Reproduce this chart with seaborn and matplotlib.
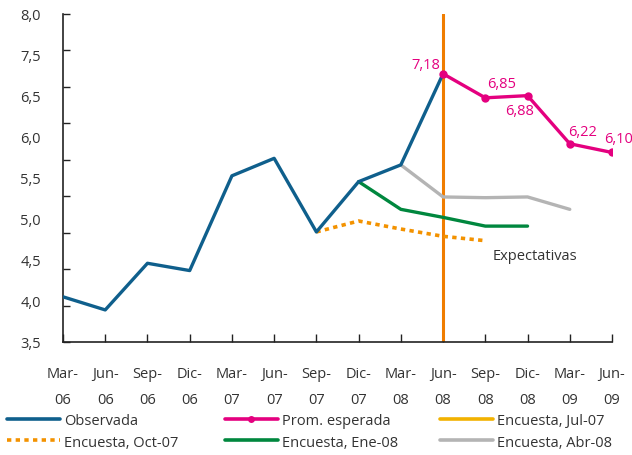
import numpy as np
import pandas as pd
import seaborn as sns
import matplotlib
matplotlib.use("Agg")
import matplotlib.pyplot as plt
from matplotlib.lines import Line2D
from matplotlib.ticker import FixedLocator

# Quarterly periods shown on the horizontal axis
periods = ["Mar-06", "Jun-06", "Sep-06", "Dic-06", "Mar-07", "Jun-07", "Sep-07",
           "Dic-07", "Mar-08", "Jun-08", "Sep-08", "Dic-08", "Mar-09", "Jun-09"]

# Observed inflation (Mar-06 .. Jun-08)
observada = [4.12, 3.94, 4.58, 4.48, 5.78, 6.02, 5.01, 5.70, 5.93, 7.18]

# Average expected path (Jun-08 .. Jun-09)
prom_esperada = [7.18, 6.85, 6.88, 6.22, 6.10]
prom_labels = ["7,18", "6,85", "6,88", "6,22", "6,10"]

# Survey expectations
encuesta_oct07 = [5.01, 5.16, 5.05, 4.95, 4.89]        # Sep-07 .. Sep-08
encuesta_ene08 = [5.70, 5.32, 5.21, 5.09, 5.09]        # Dic-07 .. Dic-08
encuesta_abr08 = [5.93, 5.49, 5.48, 5.49, 5.32]        # Mar-08 .. Mar-09

# Vertical reference at the last observed quarter
corte = "Jun-08"

# Y-axis scale and its printed labels
y_ticks = [3.5, 4.0, 4.5, 5.0, 5.5, 6.0, 6.5, 7.0, 7.5, 8.0]
y_labels = ["3,5", "4,0", "4,5", "5,0", "5,5", "6,0", "6,5", "7,5", "8,0"]

C_OBS = "#0F5F8C"
C_PROM = "#E4007F"
C_JUL = "#F2B200"
C_OCT = "#F39200"
C_ENE = "#00873E"
C_ABR = "#B4B4B4"
C_VLINE = "#F07D00"
TXT = "#333333"

sns.set_theme(style="white")
plt.rcParams["font.family"] = ["Open Sans", "DejaVu Sans"]
plt.rcParams["font.size"] = 10.5
plt.rcParams["text.color"] = TXT
plt.rcParams["xtick.color"] = TXT
plt.rcParams["ytick.color"] = TXT

idx = {p: i for i, p in enumerate(periods)}


def frame(values, start):
    i0 = idx[start]
    return pd.DataFrame({"x": np.arange(i0, i0 + len(values)), "y": values})


fig = plt.figure(figsize=(6.32, 4.56), dpi=100)
ax = fig.add_axes([63 / 632, 1 - 343 / 456, (612 - 63) / 632, (343 - 15) / 456])

df_obs = frame(observada, "Mar-06")
df_prom = frame(prom_esperada, "Jun-08")
df_oct = frame(encuesta_oct07, "Sep-07")
df_ene = frame(encuesta_ene08, "Dic-07")
df_abr = frame(encuesta_abr08, "Mar-08")

ax.axvline(idx[corte], color=C_VLINE, lw=2.2, zorder=1)
sns.lineplot(data=df_abr, x="x", y="y", ax=ax, color=C_ABR, lw=2.4, zorder=2)
sns.lineplot(data=df_ene, x="x", y="y", ax=ax, color=C_ENE, lw=2.4, zorder=2)
sns.lineplot(data=df_oct, x="x", y="y", ax=ax, color=C_OCT, lw=2.6,
             linestyle=(0, (1.2, 1.2)), zorder=2)
sns.lineplot(data=df_obs, x="x", y="y", ax=ax, color=C_OBS, lw=2.4, zorder=3)
sns.lineplot(data=df_prom, x="x", y="y", ax=ax, color=C_PROM, lw=2.4,
             marker="o", markersize=6, markeredgewidth=0, zorder=4)

# Value labels on the expected path (offsets in points)
offsets = [(-2, 7, "right"), (12, 10, "center"), (-6, -11, "center"),
           (9, 9, "center"), (-6, 10, "left")]
for (dx, dy, ha), xv, yv, lab in zip(offsets, df_prom["x"], df_prom["y"], prom_labels):
    ax.annotate(lab, (xv, yv), xytext=(dx, dy), textcoords="offset points",
                ha=ha, va="center", color=C_PROM, fontsize=10.5,
                annotation_clip=False)

ax.text(10.17, 4.68, "Expectativas", ha="left", va="center", color=TXT, fontsize=10.5)

ax.set_xlim(0, 13)
ax.set_ylim(3.5, 8.0)
ax.set_xticks(range(len(periods)))
ax.set_xticklabels([p.replace("-", "-\n") for p in periods], linespacing=2.0)
ax.yaxis.remove_overlapping_locs = False
ax.yaxis.set_major_locator(FixedLocator(y_ticks))
ax.set_yticklabels([])
pos = np.linspace(3.5, 8.0, len(y_labels))
ax.yaxis.set_minor_locator(FixedLocator(pos))
ax.set_yticklabels(y_labels, minor=True)
ax.tick_params(axis="y", which="major", left=True, direction="in", length=5,
               width=1, color="#222222")
ax.tick_params(axis="y", which="minor", left=True, length=0, pad=16, labelsize=10.5)
ax.tick_params(axis="x", bottom=True, direction="in", length=6, width=1,
               color="#222222", pad=17, labelsize=10.5)
ax.set_xlabel("")
ax.set_ylabel("")
for s in ("top", "right"):
    ax.spines[s].set_visible(False)
for s in ("left", "bottom"):
    ax.spines[s].set_color("#222222")
    ax.spines[s].set_linewidth(1.2)

# Legend in three columns of two rows
cols = [
    (7, [Line2D([], [], color=C_OBS, lw=2.6),
         Line2D([], [], color=C_OCT, lw=2.6, linestyle=(0, (1.2, 1.2)))],
     ["Observada", "Encuesta, Oct-07"]),
    (225, [Line2D([], [], color=C_PROM, lw=2.6, marker="o", markersize=5, markeredgewidth=0),
           Line2D([], [], color=C_ENE, lw=2.6)],
     ["Prom. esperada", "Encuesta, Ene-08"]),
    (440, [Line2D([], [], color=C_JUL, lw=2.6),
           Line2D([], [], color=C_ABR, lw=2.6)],
     ["Encuesta, Jul-07", "Encuesta, Abr-08"]),
]
for x0, handles, labels in cols:
    fig.legend(handles, labels, loc="upper left",
               bbox_to_anchor=(x0 / 632, 1 - 414 / 456), frameon=False,
               handlelength=3.6, handletextpad=0.3, labelspacing=0.45,
               borderpad=0, borderaxespad=0, fontsize=10.5, labelcolor=TXT)

fig.savefig("out.png", dpi=100)
